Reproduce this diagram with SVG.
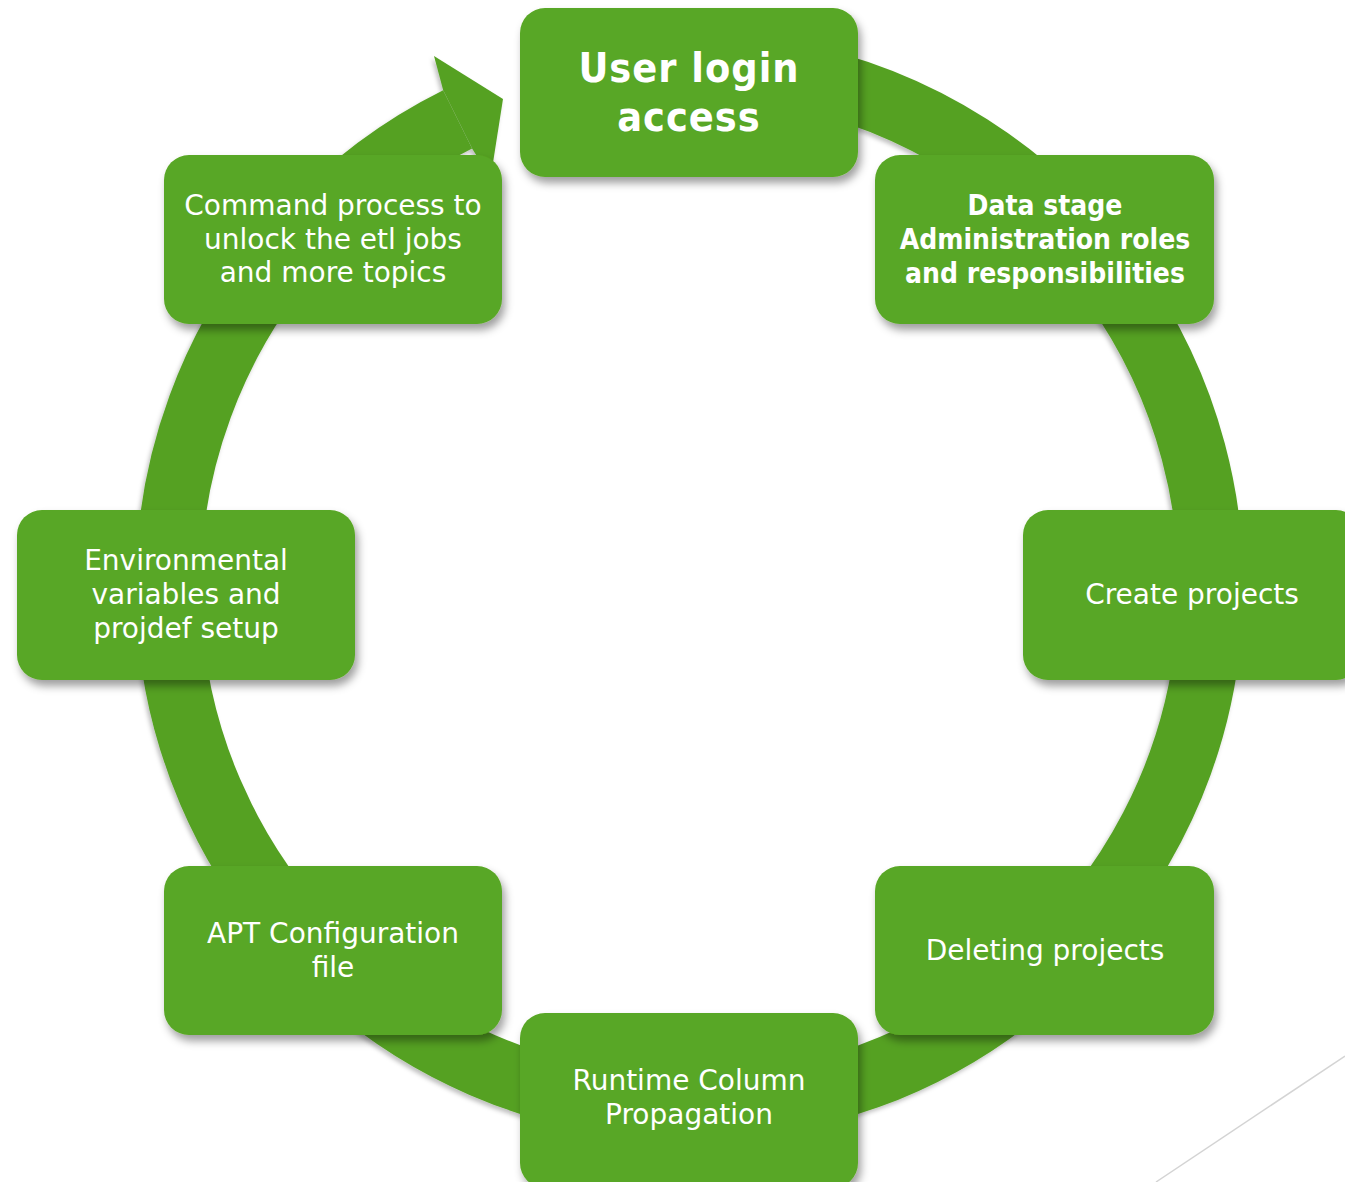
<svg xmlns="http://www.w3.org/2000/svg" width="1345" height="1182" viewBox="0 0 1345 1182">
<defs>
<filter id="sh" x="-10%" y="-10%" width="125%" height="135%">
<feDropShadow dx="3" dy="6" stdDeviation="4" flood-color="#000" flood-opacity="0.38"/>
</filter>
<filter id="rsh" x="-10%" y="-10%" width="120%" height="120%">
<feDropShadow dx="-2" dy="3" stdDeviation="2" flood-color="#000" flood-opacity="0.25"/>
</filter>
<style>
.box{fill:#59A725;filter:url(#sh)}
.t{font-family:"DejaVu Sans","Noto Sans",sans-serif;fill:#fff;text-anchor:middle;font-size:28px}
.b{font-family:"DejaVu Sans Condensed","DejaVu Sans",sans-serif;font-weight:bold}
</style>
</defs>
<rect width="1345" height="1182" fill="#fff"/>
<line x1="1345" y1="1056" x2="1156" y2="1182" stroke="#d4d4d4" stroke-width="1.5"/>
<g id="connectors" filter="url(#rsh)">
<path d="M 598.94 72.92 A 521.5 521.5 0 0 1 867.86 1076.56 A 521.5 521.5 0 0 1 457.64 119.4" fill="none" stroke="#54A123" stroke-width="65"/>
<polygon points="443.2,90.3 434,56 503,99 490.5,178.5 472.1,148.5" fill="#54A123"/>
</g>
<g id="n1"><rect class="box" x="520" y="8" width="338" height="169" rx="25"/>
<text class="t b" x="689" y="82" style="font-size:41px;letter-spacing:1px">User login</text>
<text class="t b" x="689" y="131" style="font-size:41px;letter-spacing:1px">access</text></g>
<g id="n2"><rect class="box" x="875" y="155" width="339" height="169" rx="25"/>
<text class="t b" x="1045" y="215">Data stage</text>
<text class="t b" x="1045" y="249">Administration roles</text>
<text class="t b" x="1045" y="283">and responsibilities</text></g>
<g id="n3"><rect class="box" x="1023" y="510" width="338" height="170" rx="25"/>
<text class="t" x="1192" y="604">Create projects</text></g>
<g id="n4"><rect class="box" x="875" y="866" width="339" height="169" rx="25"/>
<text class="t" x="1045" y="960">Deleting projects</text></g>
<g id="n5"><rect class="box" x="520" y="1013" width="338" height="175" rx="25"/>
<text class="t" x="689" y="1090">Runtime Column</text>
<text class="t" x="689" y="1124">Propagation</text></g>
<g id="n6"><rect class="box" x="164" y="866" width="338" height="169" rx="25"/>
<text class="t" x="333" y="943">APT Configuration</text>
<text class="t" x="333" y="977">file</text></g>
<g id="n7"><rect class="box" x="17" y="510" width="338" height="170" rx="25"/>
<text class="t" x="186" y="570">Environmental</text>
<text class="t" x="186" y="604">variables and</text>
<text class="t" x="186" y="638">projdef setup</text></g>
<g id="n8"><rect class="box" x="164" y="155" width="338" height="169" rx="25"/>
<text class="t" x="333" y="215">Command process to</text>
<text class="t" x="333" y="249">unlock the etl jobs</text>
<text class="t" x="333" y="282">and more topics</text></g>
</svg>
